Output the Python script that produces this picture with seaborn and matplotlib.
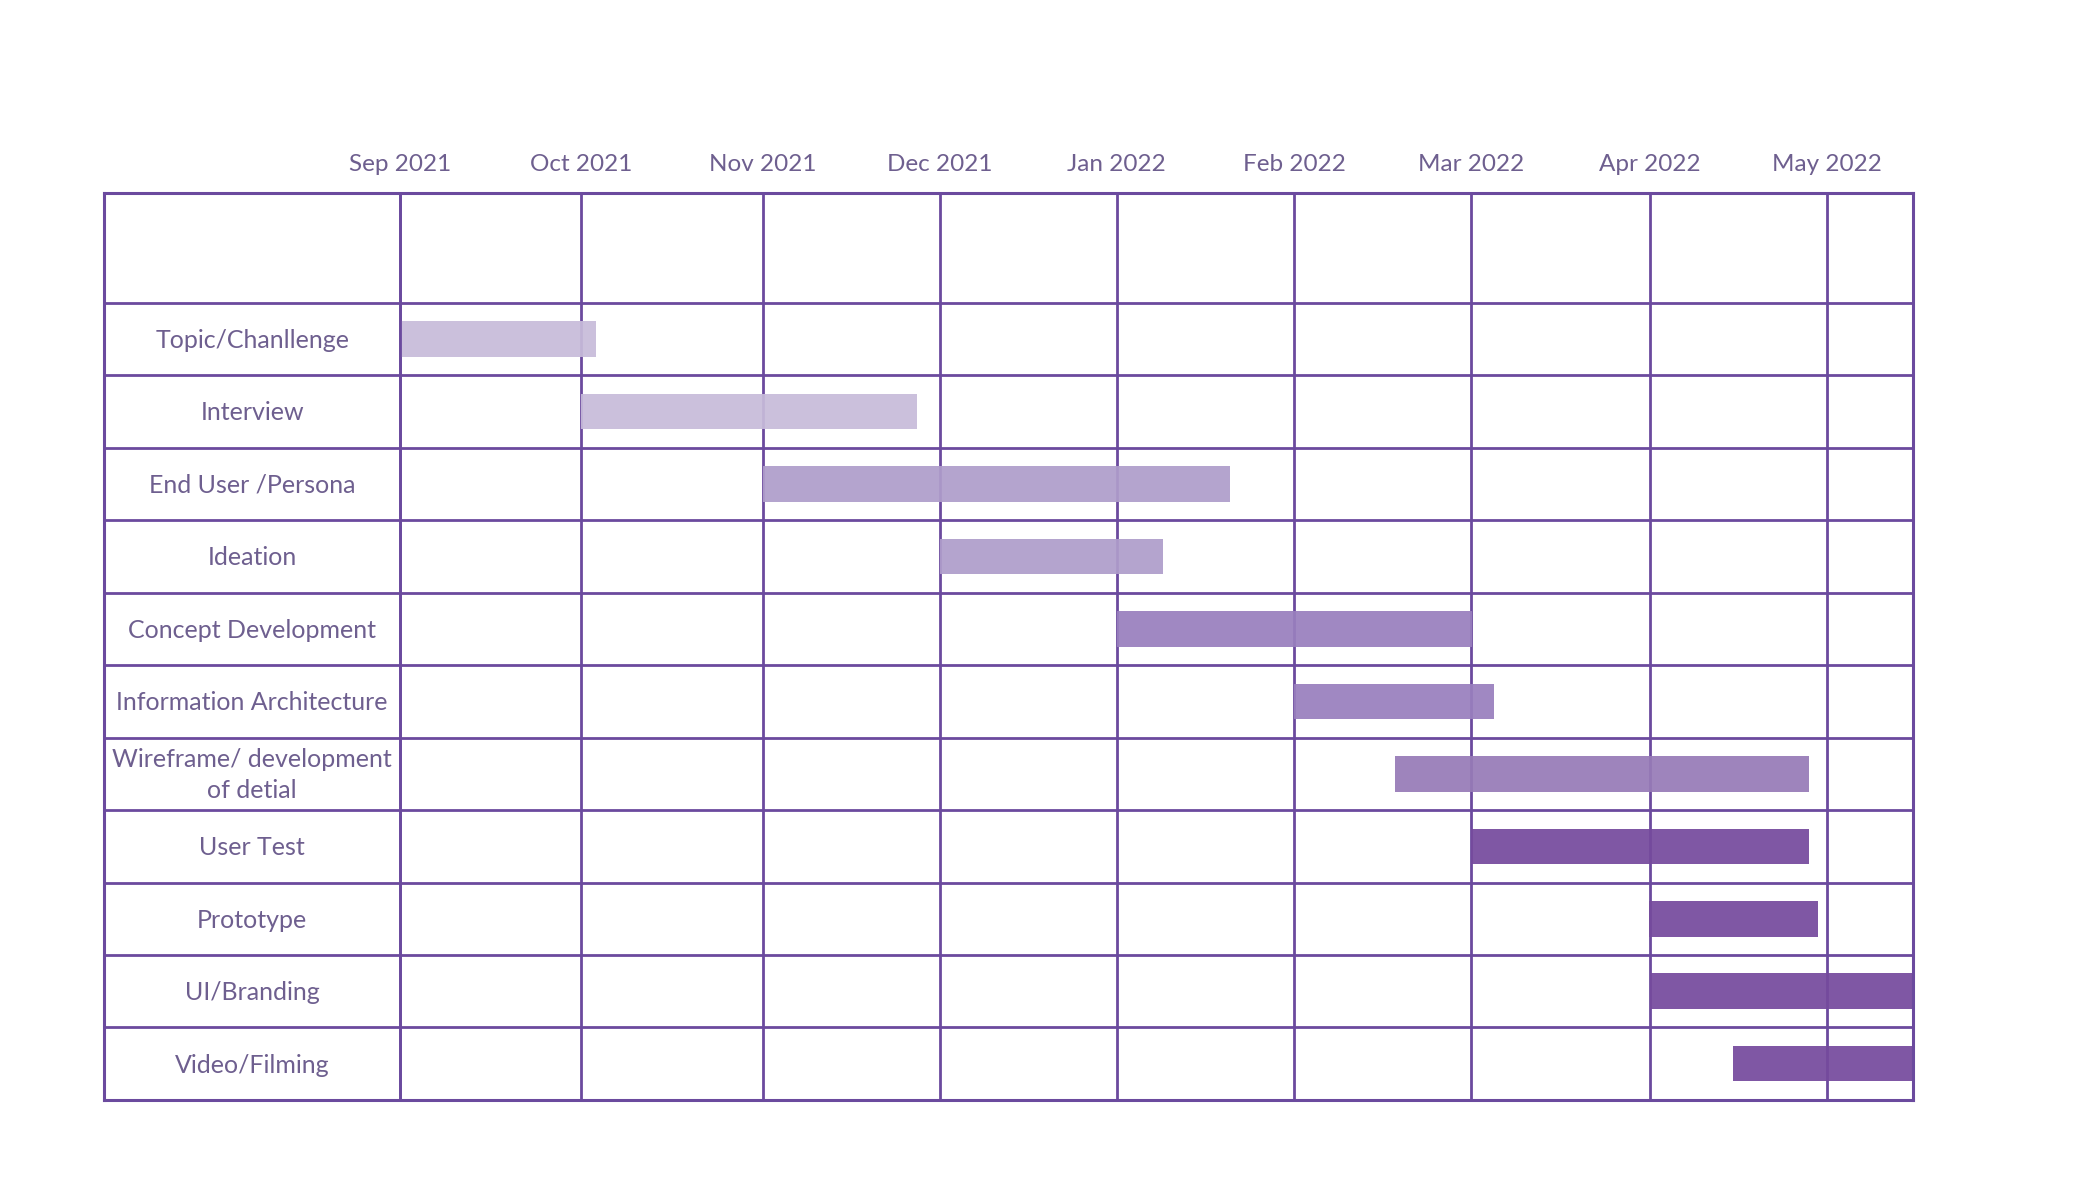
"""
Project timeline (Gantt) chart, Sep 2021 - May 2022.
"""

import numpy as np
import pandas as pd
import matplotlib
matplotlib.use("Agg")
import matplotlib.pyplot as plt
import seaborn as sns

# months shown in the header (one grid column each)
months = ["Sep 2021", "Oct 2021", "Nov 2021", "Dec 2021", "Jan 2022",
          "Feb 2022", "Mar 2022", "Apr 2022", "May 2022"]
# where each month starts on the time axis (columns are roughly one unit wide)
month_pos = [0.0, 1.016, 2.031, 3.024, 4.017, 5.010, 6.004, 7.005, 8.0]

tasks = ["Topic/Chanllenge", "Interview", "End User /Persona", "Ideation",
         "Concept Development", "Information Architecture",
         "Wireframe/ development\nof detial", "User Test", "Prototype",
         "UI/Branding", "Video/Filming"]

# start / end on the same time axis
starts = [0.0, 1.016, 2.031, 3.024, 4.017, 5.010, 5.575, 6.004, 7.0, 7.005, 7.473]
ends = [1.097, 2.899, 4.649, 4.278, 6.006, 6.13, 7.90, 7.90, 7.95, 8.48, 8.48]

# bars are drawn slightly see-through, so these are a touch darker than the result
bar_colors = ["#c7bbda", "#c7bbda", "#af9dcb", "#af9dcb", "#997fbe",
              "#997fbe", "#977bb7", "#754a9d", "#754a9d", "#754a9d", "#754a9d"]

line_color = "#6b4a9e"
text_color = "#6e5f8f"

df = pd.DataFrame({"task": tasks, "start": starts, "end": ends})

sns.set_theme(style="white")
plt.rcParams["font.family"] = ["Lato", "DejaVu Sans"]

fig = plt.figure(figsize=(20.73, 11.83), dpi=100)
ax = fig.add_axes([0.0502, 0.0702, 0.8726, 0.7667])

x_left, x_right = -1.66, 8.48
y_top, y_bottom = -2.014, 10.5

sns.barplot(data=df, x="end", y="task", hue="task", palette=bar_colors,
            legend=False, orient="h", errorbar=None, width=0.49,
            saturation=1, linewidth=0, alpha=0.93, zorder=3, ax=ax)
# turn the bars into start..end spans
for patch, (s, e) in zip(ax.patches, zip(starts, ends)):
    patch.set_x(s)
    patch.set_width(e - s)

# grid of the table
ax.vlines(month_pos, y_top, y_bottom, color=line_color, lw=2, zorder=2)
ax.vlines([0], y_top, y_bottom, color=line_color, lw=2, zorder=4)
ax.hlines(np.arange(len(tasks)) - 0.5, x_left, x_right, color=line_color, lw=2, zorder=2)
for sp in ax.spines.values():
    sp.set_color(line_color)
    sp.set_linewidth(2.2)
    sp.set_zorder(5)

# task names in the first column
for i, t in enumerate(tasks):
    ax.text(x_left / 2, i + 0.02, t, ha="center", va="center",
            fontsize=18, color=text_color, linespacing=1.4)

ax.set_xlim(x_left, x_right)
ax.set_ylim(y_bottom, y_top)
ax.set_yticks([])
ax.set_ylabel("")
ax.set_xlabel("")
ax.xaxis.tick_top()
ax.set_xticks(month_pos)
ax.set_xticklabels(months, fontsize=17.5, color=text_color)
ax.tick_params(axis="x", length=0, pad=13)

fig.savefig("out.png", dpi=100, facecolor="white")
